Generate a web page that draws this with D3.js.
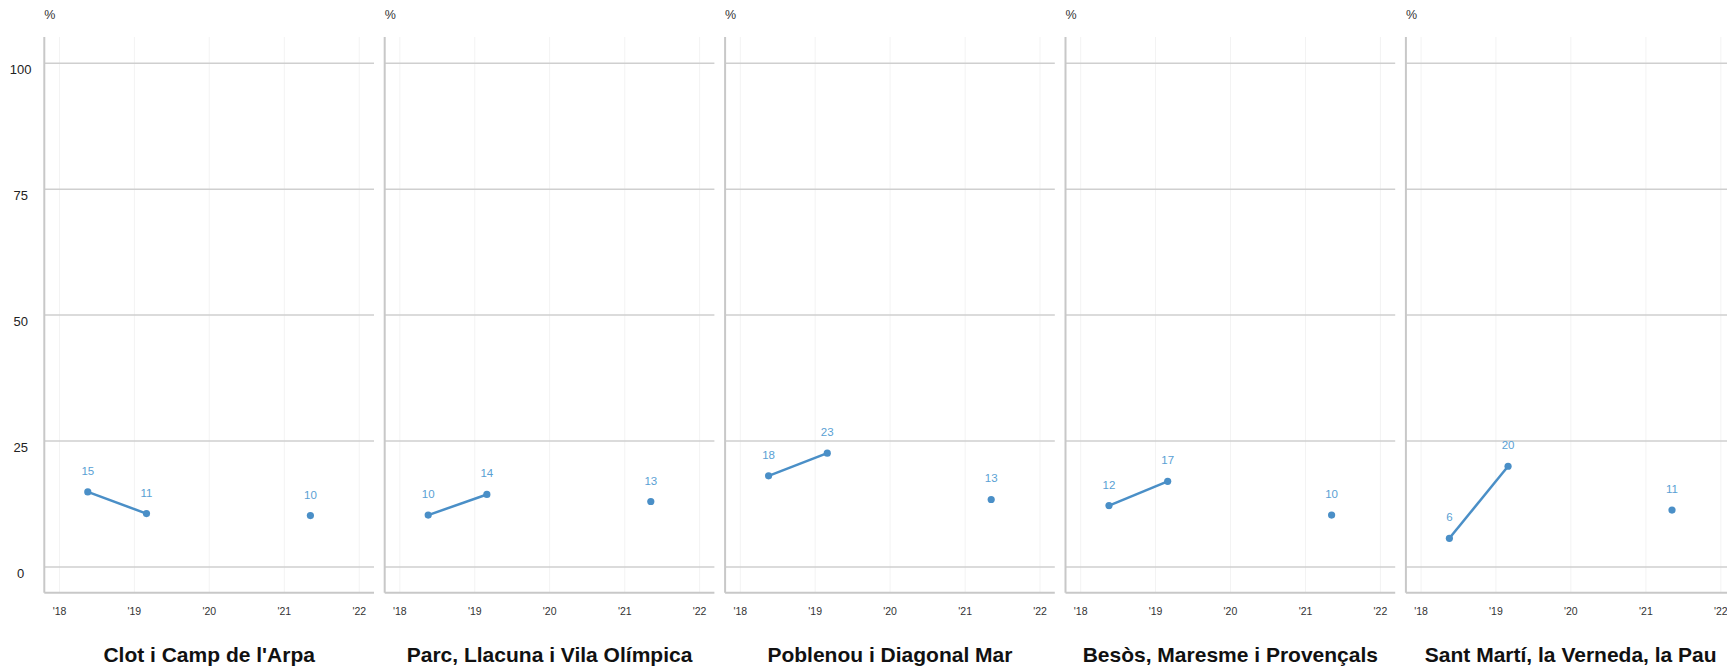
<!DOCTYPE html>
<html>
<head>
<meta charset="utf-8">
<script src="https://cdn.jsdelivr.net/npm/d3@7"></script>
<style>
	body { margin: 0; background: #fff; overflow: hidden; }
	text { font-family: "Liberation Sans", Arial, sans-serif; }
</style>
</head>
<body>
<div id="chart"></div>
<script>
// districts (one panel each)
const districts = ["Clot i Camp de l'Arpa", "Parc, Llacuna i Vila Olímpica", "Poblenou i Diagonal Mar", "Besòs, Maresme i Provençals", "Sant Martí, la Verneda, la Pau"];

// survey waves; the 2020 wave has no data (gap in the line)
const waves = ["2018-05-19", "2019-03-01", "2020-05-01", "2021-05-08"];

// % per district per wave
const clot = [14.9, 10.6, null, 10.2];
const parc = [10.3, 14.4, null, 13.0];
const poblenou = [18.1, 22.6, null, 13.4];
const besos = [12.2, 17.0, null, 10.3];
const santMarti = [5.7, 20.0, null, 11.3];
const seriesValues = [clot, parc, poblenou, besos, santMarti];

const yTicks = [0, 25, 50, 75, 100];
const xTicks = ["2018-01-01", "2019-01-01", "2020-01-01", "2021-01-01", "2022-01-01"];

let width = 1727;
let height = 666;
let margin = { top: 37, bottom: 73, left: 44.3 };
let panelW = 329.7;
let gap = 10.7;

let parse = d3.timeParse("%Y-%m-%d");

let svg = d3.select('#chart')
	.append('svg')
	.attr('width', width)
	.attr('height', height);

// panel positions
let panelScale = d3.scaleBand()
	.domain(districts)
	.range([margin.left, margin.left + districts.length * (panelW + gap) - gap])
	.paddingInner(gap / (panelW + gap))
	.paddingOuter(0);

let xScale = d3.scaleTime()
	.domain([parse("2017-10-19"), parse("2022-03-14")])
	.range([0, panelScale.bandwidth()]);

let yScale = d3.scaleLinear()
	.domain([-5.1, 105.2])
	.range([height - margin.bottom - 0.3, margin.top]);

let lineColor = "#4a8fc7";
let labelColor = "#5a9fd4";

districts.forEach((name, i) => {
	let g = svg.append('g')
		.attr('transform', `translate(${panelScale(name)},0)`);

	let w = panelScale.bandwidth();
	let bottom = yScale.range()[0];
	let top = yScale.range()[1];

	// vertical year grid
	g.selectAll('.vgrid')
		.data(xTicks.map(parse))
		.enter()
		.append('line')
		.attr('x1', d => xScale(d))
		.attr('x2', d => xScale(d))
		.attr('y1', top)
		.attr('y2', bottom)
		.attr('stroke', '#f3f3f3')
		.attr('stroke-width', 1);

	// horizontal grid
	g.selectAll('.hgrid')
		.data(yTicks)
		.enter()
		.append('line')
		.attr('x1', 0)
		.attr('x2', w)
		.attr('y1', d => yScale(d))
		.attr('y2', d => yScale(d))
		.attr('stroke', '#cfcfcf')
		.attr('stroke-width', 1.5);

	// axis lines
	g.append('line')
		.attr('x1', 0).attr('x2', 0)
		.attr('y1', top).attr('y2', bottom)
		.attr('stroke', '#c8c8c8')
		.attr('stroke-width', 2);
	g.append('line')
		.attr('x1', 0).attr('x2', w)
		.attr('y1', bottom).attr('y2', bottom)
		.attr('stroke', '#c8c8c8')
		.attr('stroke-width', 2);

	// x tick labels
	g.selectAll('.xlab')
		.data(xTicks.map(parse))
		.enter()
		.append('text')
		.attr('x', d => xScale(d))
		.attr('y', bottom + 22)
		.attr('text-anchor', 'middle')
		.style('font-size', '10.5px')
		.style('fill', '#333')
		.text(d3.timeFormat("'%y"));

	// unit
	g.append('text')
		.attr('x', 0)
		.attr('y', 19)
		.style('font-size', '12.5px')
		.style('fill', '#333')
		.text('%');

	// title
	g.append('text')
		.attr('x', w / 2)
		.attr('y', 662)
		.attr('text-anchor', 'middle')
		.style('font-size', '21px')
		.style('font-weight', 'bold')
		.style('fill', '#111')
		.text(name);

	let pts = waves.map((d, j) => ({ date: parse(d), value: seriesValues[i][j] }));

	let line = d3.line()
		.defined(d => d.value != null)
		.x(d => xScale(d.date))
		.y(d => yScale(d.value));

	g.append('path')
		.datum(pts)
		.attr('d', line)
		.attr('fill', 'none')
		.attr('stroke', lineColor)
		.attr('stroke-width', 2.5);

	let valid = pts.filter(d => d.value != null);

	g.selectAll('circle')
		.data(valid)
		.enter()
		.append('circle')
		.attr('cx', d => xScale(d.date))
		.attr('cy', d => yScale(d.value))
		.attr('r', 3.6)
		.attr('fill', lineColor);

	g.selectAll('.vlab')
		.data(valid)
		.enter()
		.append('text')
		.attr('x', d => xScale(d.date))
		.attr('y', d => yScale(d.value) - 17)
		.attr('text-anchor', 'middle')
		.style('font-size', '11.5px')
		.style('fill', labelColor)
		.text(d => Math.round(d.value));
});

// y labels, first panel only
svg.selectAll('.ylab')
	.data(yTicks)
	.enter()
	.append('text')
	.attr('x', 20.7)
	.attr('y', d => yScale(d) + 11)
	.attr('text-anchor', 'middle')
	.style('font-size', '13px')
	.style('fill', '#222')
	.text(d => d);
</script>
</body>
</html>
